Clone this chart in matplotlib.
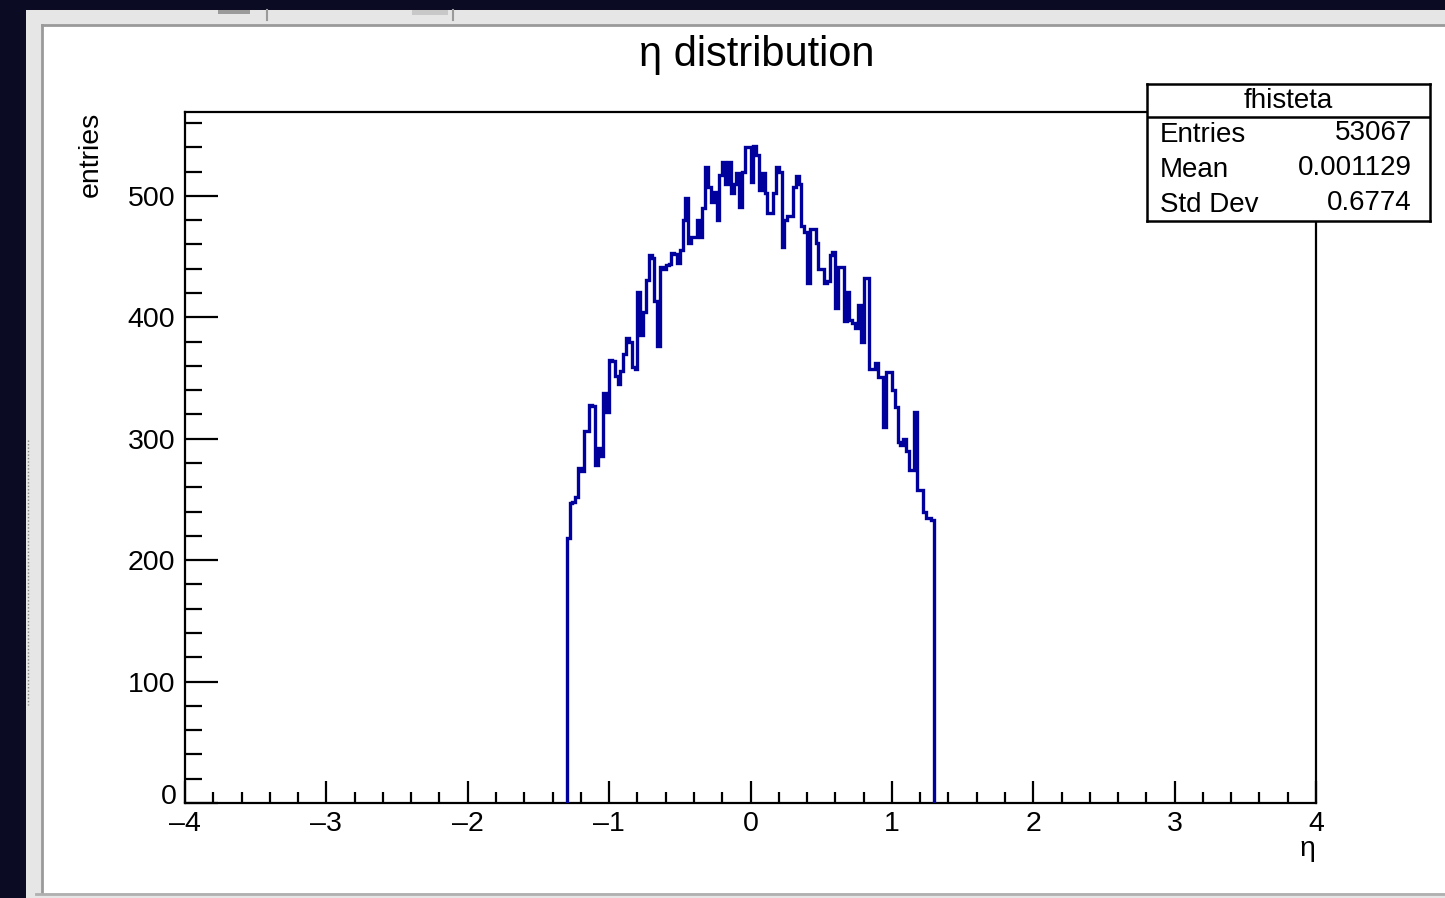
import numpy as np
import matplotlib
matplotlib.use("Agg")
import matplotlib.pyplot as plt
from matplotlib.patches import Rectangle
from matplotlib.ticker import MultipleLocator, FuncFormatter

plt.rcParams['font.family'] = ['Liberation Sans', 'DejaVu Sans']

# histogram contents, 130 bins of width 0.02 between -1.3 and 1.3
eta_lo, eta_hi = -1.3, 1.3
counts = [
    218, 247, 248, 252, 276, 273, 306, 306, 328, 327,
    278, 292, 286, 338, 322, 365, 364, 352, 345, 356,
    370, 383, 380, 359, 357, 421, 385, 404, 431, 451,
    449, 413, 376, 441, 440, 443, 444, 453, 452, 445,
    455, 480, 498, 461, 466, 466, 480, 466, 490, 524,
    507, 495, 503, 480, 517, 528, 510, 528, 502, 510,
    519, 491, 520, 540, 540, 511, 541, 534, 505, 519,
    502, 486, 486, 502, 524, 520, 458, 480, 483, 483,
    507, 516, 510, 475, 470, 428, 473, 473, 461, 440,
    440, 428, 430, 451, 454, 408, 441, 441, 397, 421,
    398, 395, 391, 410, 380, 432, 432, 357, 357, 362,
    351, 351, 310, 355, 355, 340, 326, 297, 295, 300,
    290, 274, 274, 322, 258, 258, 240, 235, 235, 233,
]
edges = np.linspace(eta_lo, eta_hi, len(counts) + 1)

hist_name = "fhisteta"
stat_names = ["Entries", "Mean", "Std Dev"]
stat_values = ["53067", "0.001129", "0.6774"]

W, H = 1445, 898
fig = plt.figure(figsize=(W / 100, H / 100), dpi=100)
fig.patch.set_facecolor("#0c0b24")

# window frame behind the canvas (pixel coords)
bg = fig.add_axes([0, 0, 1, 1])
bg.set_xlim(0, W)
bg.set_ylim(H, 0)
bg.axis("off")
bg.add_patch(Rectangle((26, 10), W - 26, H - 10, color="#e6e6e6", lw=0))
bg.add_patch(Rectangle((43, 26), W - 43, 867, color="white", lw=0))
bg.plot([42, 42], [25, 893], color="#9a9a9a", lw=2)
bg.plot([42, W], [25, 25], color="#9a9a9a", lw=2)
bg.plot([36, W], [894, 894], color="#b0b0b0", lw=2)
bg.plot([267, 267], [10, 20], color="#9a9a9a", lw=1.5)
bg.plot([453, 453], [10, 20], color="#9a9a9a", lw=1.5)
bg.add_patch(Rectangle((218, 10), 32, 4, color="#9a9a9a", lw=0))
bg.add_patch(Rectangle((412, 10), 36, 5, color="#c8c8c8", lw=0))
bg.plot([28, 28], [440, 705], color="#888888", lw=1, ls=(0, (1, 1.5)))

# main pad
ax = fig.add_axes([185 / W, 1 - 803 / H, (1316 - 185) / W, (803 - 112) / H])
ax.set_facecolor("white")
ax.stairs(counts, edges, baseline=0, color="#00009c", lw=2.4, zorder=3)

ax.set_xlim(-4, 4)
ax.set_ylim(0, 569)
ax.xaxis.set_major_locator(MultipleLocator(1))
ax.xaxis.set_minor_locator(MultipleLocator(0.2))
ax.yaxis.set_major_locator(MultipleLocator(100))
ax.yaxis.set_minor_locator(MultipleLocator(20))
ax.tick_params(which="both", direction="in", top=False, right=False,
               width=1.6, color="black", labelsize=20.5)
ax.tick_params(axis="x", which="major", length=16, pad=6)
ax.tick_params(axis="x", which="minor", length=8)
ax.tick_params(axis="y", which="major", length=24, pad=7)
ax.tick_params(axis="y", which="minor", length=12)
for s in ax.spines.values():
    s.set_linewidth(1.6)
ax.xaxis.set_major_formatter(FuncFormatter(lambda v, p: f"{int(round(v))}".replace("-", "\u2013")))
# the "0" on y is drawn by hand, a bit raised so it clears the "-4" below it
ax.yaxis.set_major_formatter(FuncFormatter(lambda v, p: "" if v == 0 else f"{int(v)}"))
ax.annotate("0", xy=(0, 0), xycoords=("axes fraction", "data"),
            xytext=(-6, 4), textcoords="offset points", ha="right", va="center",
            fontsize=20.5)

fig.text(757 / W, 1 - 55 / H, "\u03b7 distribution", ha="center", va="center", fontsize=30)
fig.text(91 / W, 1 - 112 / H, "entries", rotation=90, ha="center", va="top", fontsize=20.5)
fig.text(1307 / W, 1 - 849 / H, "\u03b7", ha="center", va="center", fontsize=20.5)

# stats box
st = fig.add_axes([1147 / W, 1 - 221 / H, (1430 - 1147) / W, (221 - 84) / H])
st.set_xlim(1147, 1430)
st.set_ylim(221, 84)
st.set_xticks([])
st.set_yticks([])
st.set_facecolor("white")
for s in st.spines.values():
    s.set_linewidth(1.8)
st.plot([1147, 1430], [117, 117], color="black", lw=1.8)
st.text(1288, 101, hist_name, ha="center", va="center", fontsize=20)
for i, (nm, val) in enumerate(zip(stat_names, stat_values)):
    y = 135 + 35 * i
    st.text(1160, y, nm, ha="left", va="center", fontsize=20)
    st.text(1412, y - 2, val, ha="right", va="center", fontsize=20)

fig.savefig("out.png", dpi=100, facecolor=fig.get_facecolor())
